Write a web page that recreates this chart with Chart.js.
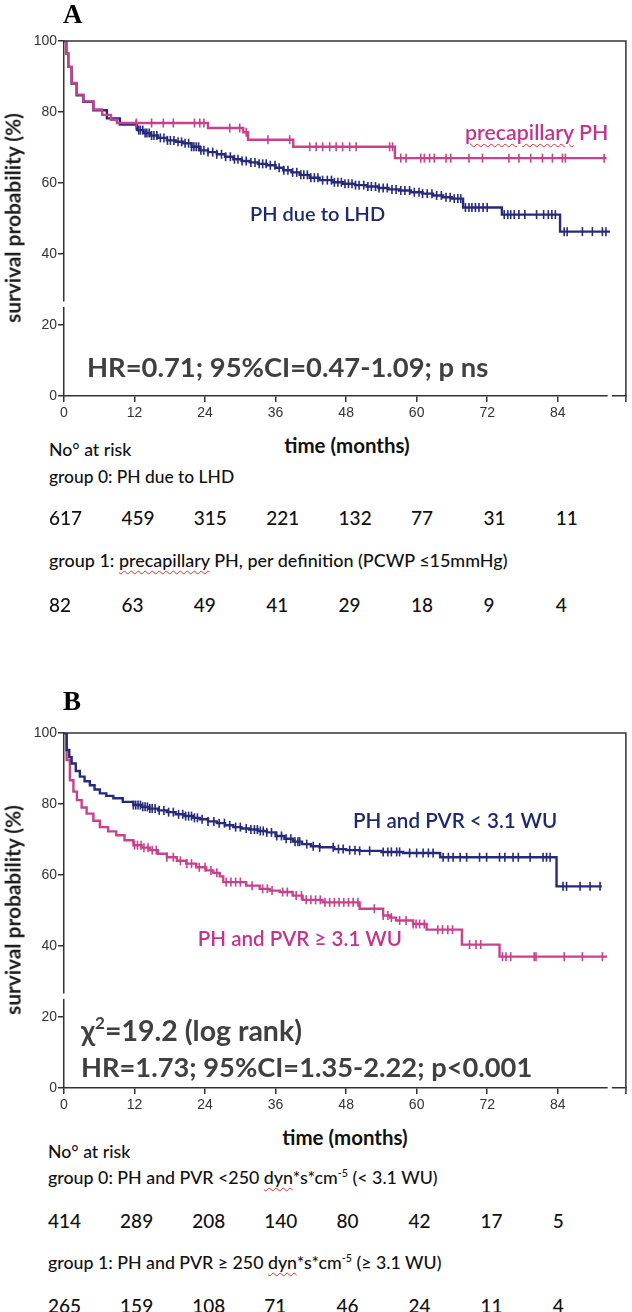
<!DOCTYPE html>
<html>
<head>
<meta charset="utf-8">
<script src="https://cdn.jsdelivr.net/npm/chart.js@4.4.1/dist/chart.umd.min.js"></script>
<style>
body { margin: 0; background: #fff; }
#page { position: relative; width: 632px; height: 1312px; overflow: hidden; font-family: Lato, 'Open Sans', sans-serif; color: #111; }
canvas { position: absolute; left: 0; }
.t { position: absolute; line-height: 1; white-space: nowrap; transform: translateY(-50%); }
.c { transform: translate(-50%, -50%); }
.r { transform: translate(-100%, -50%); }
.panel { font-family: 'Liberation Serif', 'Times New Roman', serif; font-weight: bold; font-size: 27px; color: #000; }
.ytitle { font-weight: bold; font-size: 17px; color: #1a1a1a; transform: translate(-50%, -50%) rotate(-90deg); }
.navy { color: #1f2a6e; font-weight: 600; font-size: 20px; }
.pink { color: #c2358e; font-weight: 600; font-size: 20px; }
.stat { color: #404040; font-weight: 700; font-size: 28px; }
.risk { font-size: 19px; font-weight: 500; color: #111; }
.xt { font-weight: bold; font-size: 19px; }
.sp { text-decoration: underline wavy #e03030; text-decoration-thickness: 1px; text-underline-offset: 3px; }
sup { font-size: 0.6em; line-height: 0; vertical-align: 0.7em; }
</style>
</head>
<body>
<div id="page">
  <canvas id="chartA" width="632" height="430" style="top:0px"></canvas>
  <canvas id="chartB" width="632" height="430" style="top:692px"></canvas>

  <!-- panel A -->
  <div class="t panel" style="left:63px; top:14px">A</div>
  <div class="t ytitle" style="left:13px; top:218px" data-w="210">survival probability (%)</div>
  <div class="t pink" style="left:465px; top:133px" data-w="143"><span class="sp">precapillary</span> PH</div>
  <div class="t navy" style="left:250px; top:213px" data-w="135">PH due to LHD</div>
  <div class="t stat" style="left:87px; top:367px" data-w="401">HR=0.71; 95%CI=0.47-1.09; p ns</div>
  <div class="t xt c" style="left:347px; top:445px" data-w="125">time (months)</div>
  <div class="t risk" style="left:49px; top:450px" data-w="82">No° at risk</div>
  <div class="t risk" style="left:49px; top:477px" data-w="185">group 0: PH due to LHD</div>
  <div class="t risk" style="left:49px; top:561px" data-w="459">group 1: <span class="sp">precapillary</span> PH, per definition (PCWP ≤15mmHg)</div>

  <!-- panel B -->
  <div class="t panel" style="left:63px; top:701px">B</div>
  <div class="t ytitle" style="left:13px; top:910px" data-w="210">survival probability (%)</div>
  <div class="t navy" style="left:353px; top:820px" data-w="204">PH and PVR &lt; 3.1 WU</div>
  <div class="t pink r" style="left:402px; top:938px" data-w="204">PH and PVR ≥ 3.1 WU</div>
  <div class="t stat" style="left:81px; top:1030px" data-w="221">χ<sup>2</sup>=19.2 (log rank)</div>
  <div class="t stat" style="left:81px; top:1067px" data-w="451">HR=1.73; 95%CI=1.35-2.22; p&lt;0.001</div>
  <div class="t xt c" style="left:345px; top:1137px" data-w="125">time (months)</div>
  <div class="t risk" style="left:48px; top:1152px" data-w="82">No° at risk</div>
  <div class="t risk" style="left:48px; top:1178px" data-w="390">group 0: PH and PVR &lt;250 <span class="sp">dyn</span>*s*cm<sup>-5</sup> (&lt; 3.1 WU)</div>
  <div class="t risk" style="left:48px; top:1263px" data-w="394">group 1: PH and PVR ≥ 250 <span class="sp">dyn</span>*s*cm<sup>-5</sup> (≥ 3.1 WU)</div>
</div>

<script>
// ticks
const monthTicks = [0, 12, 24, 36, 48, 60, 72, 84];
const survTicks = [0, 20, 40, 60, 80, 100];

// panel A - PH due to LHD (group 0)
const aLhdTime = [0, 0.4, 0.73, 1.3, 2.15, 3.3, 5, 7.3, 9.5, 12.4, 13.5, 14.6, 16, 17.5, 19, 20.3, 21.7, 23.1, 24.5, 26, 27.4, 28.8, 30.2, 31.6, 33, 34.5, 36, 37.3, 38.7, 40.1, 41.8, 43.5, 45.7, 47.5, 49.5, 51.5, 53.5, 55.2, 57, 59, 61, 62.8, 64.5, 66, 67.9, 74.5, 84.4, 92.9];
const aLhdSurv = [100, 96.5, 92.7, 88, 84.7, 82.9, 80.5, 78.2, 76.5, 74.9, 74.1, 73.4, 72.7, 72.0, 71.6, 71.2, 70.2, 69.2, 68.7, 68.1, 67.4, 66.7, 66.2, 65.8, 65.4, 65.0, 64.3, 63.6, 63.0, 62.3, 61.5, 60.8, 60.2, 59.8, 59.4, 59.0, 58.6, 58.2, 57.9, 57.4, 57.0, 56.5, 56.0, 55.6, 53.1, 51.1, 46.3, 46.3];
const aLhdCensor = [12.3, 12.7, 13.0, 13.4, 13.8, 14.1, 14.5, 14.9, 15.3, 15.8, 16.4, 17.0, 17.6, 18.1, 18.7, 19.4, 20.0, 20.6, 21.2, 21.7, 22.1, 22.5, 22.9, 23.3, 23.8, 24.5, 25.3, 26.0, 26.8, 27.5, 28.3, 29.0, 29.6, 30.3, 31.0, 31.8, 32.5, 33.2, 33.8, 34.4, 35.1, 35.9, 36.6, 37.4, 38.1, 38.9, 39.6, 40.3, 40.8, 41.4, 42.0, 42.6, 43.2, 44.0, 44.8, 45.5, 46.0, 46.6, 47.2, 47.8, 48.4, 49.0, 49.6, 50.2, 51.0, 51.7, 52.3, 53.0, 53.6, 54.3, 55.0, 55.8, 56.5, 57.3, 58.0, 58.8, 59.6, 60.4, 61.0, 61.8, 62.6, 63.4, 64.2, 65.0, 65.7, 66.4, 67.0, 67.5, 68.3, 68.9, 69.4, 70.0, 70.6, 71.3, 72.0, 74.9, 75.5, 76.0, 76.6, 77.4, 78.4, 80.4, 81.6, 82.4, 83.0, 83.6, 85.1, 85.6, 88.2, 89.9, 91.6, 92.2];

// panel A - precapillary PH (group 1)
const aPreTime = [0, 0.4, 0.73, 1.3, 2.15, 3.3, 5, 6.5, 8, 9, 24.5, 30.5, 31.3, 39, 56.3, 92.3];
const aPreSurv = [100, 96.5, 92.7, 88.2, 84.9, 83.0, 80.7, 79.2, 77.8, 76.9, 75.5, 74.3, 72.2, 70.2, 67.0, 67.0];
const aPreCensor = [12.3, 14.9, 16.9, 18.6, 22.2, 23.1, 23.8, 28.2, 29.9, 31.0, 34.7, 38.4, 41.8, 42.9, 44.0, 45.2, 46.3, 47.4, 48.6, 49.7, 55.4, 55.9, 57.3, 58.2, 60.7, 61.3, 62.2, 63.0, 65.0, 65.8, 68.9, 71.2, 75.7, 77.4, 79.4, 81.4, 83.1, 84.8, 85.3, 91.9];

// panel B - PVR < 3.1 WU (group 0)
const bLowTime = [0, 0.45, 0.9, 1.3, 2, 2.7, 3.5, 4.4, 5.2, 6.1, 7.2, 8.4, 10, 11.8, 13.2, 14.5, 16, 17.5, 19, 20.5, 22, 23.1, 24.5, 26, 27.4, 28.8, 30.2, 31.5, 33, 34.5, 36, 37.5, 39, 40.5, 42, 43.5, 46, 48, 50.3, 54, 57.7, 64, 83.8, 91.5];
const bLowSurv = [100, 95.2, 93.2, 91.4, 89.3, 87.7, 86.4, 85.3, 84.1, 83.0, 82.3, 81.6, 80.6, 79.7, 79.2, 78.7, 78.2, 77.7, 77.1, 76.6, 76.1, 75.7, 75.1, 74.6, 74.0, 73.5, 73.1, 72.8, 72.4, 72.0, 71.0, 70.2, 69.4, 68.7, 68.1, 67.8, 67.3, 67.0, 66.8, 66.5, 66.2, 65.0, 56.8, 56.8];
const bLowCensor = [11.8, 12.2, 12.6, 13.0, 13.4, 13.8, 14.2, 14.6, 15.0, 15.5, 16.2, 17.0, 17.8, 18.6, 19.5, 20.2, 20.7, 21.2, 21.7, 22.2, 22.7, 23.5, 24.5, 25.5, 26.4, 27.3, 28.2, 29.2, 30.0, 31.0, 31.8, 32.4, 32.9, 33.4, 33.9, 34.5, 35.3, 36.2, 37.0, 37.8, 38.6, 39.3, 39.8, 40.1, 41.3, 42.4, 43.5, 45.8, 46.7, 47.5, 48.6, 49.5, 50.3, 52.0, 54.3, 55.1, 55.7, 56.6, 57.1, 58.8, 60.0, 61.1, 62.0, 62.8, 64.5, 65.4, 66.2, 67.4, 68.5, 70.7, 71.9, 74.1, 75.0, 76.4, 77.3, 79.3, 81.5, 82.1, 82.7, 84.9, 85.5, 87.8, 89.5, 91.2];

// panel B - PVR >= 3.1 WU (group 1)
const bHighTime = [0, 0.45, 1.0, 1.6, 2.2, 3.0, 3.85, 5, 6.1, 7.5, 8.9, 10.3, 11.8, 13.2, 14.6, 16, 17.5, 19.2, 20.8, 22.5, 24.2, 25.4, 26.5, 27.1, 31, 33.3, 35, 36.7, 38.9, 40.6, 44.0, 50.3, 54.3, 55.5, 56.5, 59.4, 61.7, 67.7, 74.1, 92.4];
const bHighSurv = [100, 92.4, 86.7, 83.5, 81.1, 79.0, 77.3, 75.3, 73.5, 72.3, 71.2, 69.8, 68.4, 67.7, 67.0, 66.0, 65.0, 64.0, 63.2, 62.2, 61.3, 60.6, 59.6, 58.0, 57.0, 56.1, 55.6, 55.2, 54.2, 53.0, 52.3, 50.5, 48.6, 48.0, 47.2, 46.2, 44.6, 40.4, 37.0, 37.0];
const bHighCensor = [12.0, 12.5, 13.1, 13.6, 14.3, 15.0, 15.7, 17.5, 18.6, 19.8, 20.9, 21.7, 23.0, 24.0, 25.0, 26.0, 27.6, 28.4, 29.2, 30.0, 32.0, 33.8, 34.6, 35.4, 37.2, 38.0, 39.5, 40.4, 41.2, 42.0, 42.8, 43.6, 44.4, 45.2, 46.0, 46.8, 47.6, 48.4, 49.2, 50.0, 52.8, 54.3, 55.1, 55.7, 57.1, 58.2, 59.4, 59.9, 60.5, 61.3, 63.6, 64.4, 65.3, 66.1, 69.0, 70.1, 70.9, 74.6, 75.2, 76.0, 80.0, 80.3, 85.1, 88.2, 91.6];

// numbers at risk
const riskA0 = [617, 459, 315, 221, 132, 77, 31, 11];
const riskA1 = [82, 63, 49, 41, 29, 18, 9, 4];
const riskB0 = [414, 289, 208, 140, 80, 42, 17, 5];
const riskB1 = [265, 159, 108, 71, 46, 24, 11, 4];

const NAVY = '#262a7a';
const PINK = '#c8418d';

function stepPoints(times, surv) {
    return times.map((t, i) => ({ x: t, y: surv[i] }));
}

// censored cases sit on the curve level at that time
function censorPoints(times, surv, cens) {
    return cens.map(c => {
        let i = 0;
        while (i + 1 < times.length && times[i + 1] <= c) i++;
        return { x: c, y: surv[i] };
    });
}

function curve(times, surv, color) {
    return {
        data: stepPoints(times, surv),
        borderColor: color,
        borderWidth: 2.4,
        stepped: true,
        pointRadius: 0,
        fill: false
    };
}

function marks(times, surv, cens, color) {
    return {
        data: censorPoints(times, surv, cens),
        showLine: false,
        borderColor: color,
        pointStyle: 'line',
        rotation: 90,
        pointRadius: 4.5,
        pointBorderColor: color,
        pointBorderWidth: 1.6
    };
}

// box lines on top / right and the little axis breaks
const framePlugin = {
    id: 'frame',
    afterDraw(chart) {
        const { ctx, chartArea: a, scales } = chart;
        ctx.save();
        ctx.strokeStyle = '#333';
        ctx.lineWidth = 1.5;
        ctx.beginPath();
        ctx.moveTo(a.left, a.top);
        ctx.lineTo(a.right, a.top);
        ctx.lineTo(a.right, a.bottom + 6);
        ctx.stroke();
        ctx.fillStyle = '#fff';
        const y1 = scales.y.getPixelForValue(26.6);
        const y2 = scales.y.getPixelForValue(25.1);
        ctx.fillRect(a.left - 3, y1, 6, y2 - y1);
        const x1 = scales.x.getPixelForValue(92.5);
        const x2 = scales.x.getPixelForValue(93.2);
        ctx.fillRect(x1, a.bottom - 3, x2 - x1, 6);
        ctx.restore();
    }
};

const tickFont = { family: "'Liberation Sans', Arial, sans-serif", size: 14 };

function drawPanel(id, datasets) {
    return new Chart(document.getElementById(id), {
        type: 'line',
        data: { datasets: datasets },
        options: {
            responsive: false,
            animation: false,
            events: [],
            layout: { padding: { top: 41, right: 5, left: 0, bottom: 0 } },
            plugins: { legend: { display: false }, tooltip: { enabled: false } },
            scales: {
                x: {
                    type: 'linear',
                    min: 0,
                    max: 95.6,
                    afterBuildTicks: s => { s.ticks = monthTicks.map(v => ({ value: v })); },
                    afterFit: s => { s.height = 34; },
                    ticks: { font: tickFont, color: '#333', padding: 3, maxRotation: 0, autoSkip: false },
                    grid: { drawOnChartArea: false, drawTicks: true, tickLength: 6, color: '#333', lineWidth: 1.5 },
                    border: { color: '#333', width: 1.5 }
                },
                y: {
                    min: 0,
                    max: 100,
                    afterBuildTicks: s => { s.ticks = survTicks.map(v => ({ value: v })); },
                    afterFit: s => { s.width = 64; },
                    ticks: { font: tickFont, color: '#333', padding: 1 },
                    grid: { drawOnChartArea: false, drawTicks: true, tickLength: 6, color: '#333', lineWidth: 1.5 },
                    border: { color: '#333', width: 1.5 }
                }
            }
        },
        plugins: [framePlugin]
    });
}

drawPanel('chartA', [
    curve(aPreTime, aPreSurv, PINK),
    marks(aPreTime, aPreSurv, aPreCensor, PINK),
    curve(aLhdTime, aLhdSurv, NAVY),
    marks(aLhdTime, aLhdSurv, aLhdCensor, NAVY)
]);

drawPanel('chartB', [
    curve(bLowTime, bLowSurv, NAVY),
    marks(bLowTime, bLowSurv, bLowCensor, NAVY),
    curve(bHighTime, bHighSurv, PINK),
    marks(bHighTime, bHighSurv, bHighCensor, PINK)
]);

// at-risk rows
const page = document.getElementById('page');
function riskRow(values, left0, step, yc) {
    values.forEach((v, i) => {
        const d = document.createElement('div');
        d.className = 't risk';
        d.style.left = (left0 + i * step) + 'px';
        d.style.top = yc + 'px';
        d.textContent = v;
        page.appendChild(d);
    });
}
riskRow(riskA0, 49, 72.4, 517);
riskRow(riskA1, 49, 72.4, 604);
riskRow(riskB0, 48, 72.1, 1220);
riskRow(riskB1, 48, 72.1, 1305);

// size the text blocks to the widths they have in the figure
function fitText() {
    document.querySelectorAll('[data-w]').forEach(el => {
        el.style.fontSize = '';
        const w = +el.dataset.w;
        const fs = parseFloat(getComputedStyle(el).fontSize);
        el.style.fontSize = (fs * w / el.offsetWidth) + 'px';
    });
}
fitText();
if (document.fonts) document.fonts.ready.then(fitText);
</script>
</body>
</html>
